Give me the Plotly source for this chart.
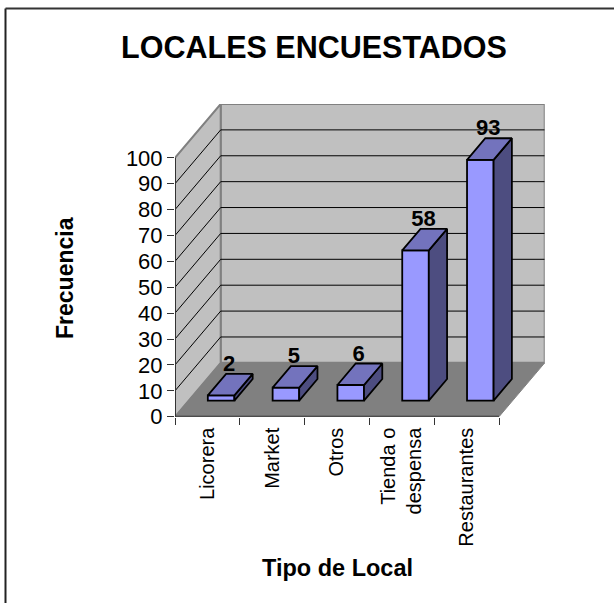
import plotly.graph_objects as go

# datos
categorias = ['Licorera', 'Market', 'Otros', 'Tienda o<br>despensa', 'Restaurantes']
frecuencias = [2, 5, 6, 58, 93]
ticks_y = [0, 10, 20, 30, 40, 50, 60, 70, 80, 90, 100]

ANCHO, ALTO = 614, 603
FUENTE = 'Liberation Sans'

# proyeccion oblicua: una unidad de profundidad desplaza x e y
DX = 0.705
DY = 20.8
Z_FRENTE, Z_FONDO = 0.3, 0.7  # profundidad de la barra dentro del piso
ANCHO_BARRA = 0.41
N = len(categorias)
Y_MAX = ticks_y[-1]


def proy(x, y, z):
    return x + z * DX, y + z * DY


def poligono(puntos):
    xs, ys = zip(*puntos)
    return 'M ' + ' L '.join(f'{a},{b}' for a, b in zip(xs, ys)) + ' Z'


fig = go.Figure()

# paredes y piso
fig.add_shape(type='path', layer='below', line=dict(color='#808080', width=2), fillcolor='#c0c0c0',
              path=poligono([proy(0, 0, 1), proy(N, 0, 1), proy(N, Y_MAX, 1), proy(0, Y_MAX, 1)]))
fig.add_shape(type='path', layer='below', line=dict(color='#808080', width=2), fillcolor='#c0c0c0',
              path=poligono([proy(0, 0, 0), proy(0, 0, 1), proy(0, Y_MAX, 1), proy(0, Y_MAX, 0)]))
fig.add_shape(type='path', layer='below', line=dict(color='#808080', width=1), fillcolor='#808080',
              path=poligono([proy(0, 0, 0), proy(N, 0, 0), proy(N, 0, 1), proy(0, 0, 1)]))

# lineas de la grilla
for t in ticks_y[1:-1]:
    x0, y0 = proy(0, t, 0)
    x1, y1 = proy(0, t, 1)
    x2, y2 = proy(N, t, 1)
    fig.add_shape(type='line', layer='below', x0=x0, y0=y0, x1=x1, y1=y1, line=dict(color='#000000', width=1))
    fig.add_shape(type='line', layer='below', x0=x1, y0=y1, x1=x2, y1=y2, line=dict(color='#000000', width=1))

# cara frontal de las barras
centros = [i + 0.5 for i in range(N)]
xf = [proy(c, 0, Z_FRENTE)[0] for c in centros]
base = proy(0, 0, Z_FRENTE)[1]
fig.add_trace(go.Bar(
    x=xf,
    y=frecuencias,
    base=base,
    width=ANCHO_BARRA,
    marker=dict(color='#9999ff', line=dict(color='#000000', width=1.8)),
    hoverinfo='skip',
    showlegend=False,
))

# caras superior y lateral
for c, v in zip(centros, frecuencias):
    i, d = c - ANCHO_BARRA / 2, c + ANCHO_BARRA / 2
    tapa = [proy(i, v, Z_FRENTE), proy(d, v, Z_FRENTE), proy(d, v, Z_FONDO), proy(i, v, Z_FONDO), proy(i, v, Z_FRENTE)]
    lado = [proy(d, 0, Z_FRENTE), proy(d, 0, Z_FONDO), proy(d, v, Z_FONDO), proy(d, v, Z_FRENTE), proy(d, 0, Z_FRENTE)]
    for puntos, color in ((lado, '#4d4d80'), (tapa, '#7373bd')):
        fig.add_trace(go.Scatter(
            x=[p[0] for p in puntos],
            y=[p[1] for p in puntos],
            mode='lines',
            fill='toself',
            fillcolor=color,
            line=dict(color='#000000', width=1.8),
            hoverinfo='skip',
            showlegend=False,
        ))

# etiquetas de datos
etiquetas = [proy(c, v, Z_FONDO) for c, v in zip(centros, frecuencias)]
fig.add_trace(go.Scatter(
    x=[e[0] - 0.16 for e in etiquetas],
    y=[e[1] - 1.0 for e in etiquetas],
    mode='text',
    text=[str(v) for v in frecuencias],
    textposition='top center',
    textfont=dict(family=FUENTE, size=22, color='#000000', weight='bold'),
    cliponaxis=False,
    hoverinfo='skip',
    showlegend=False,
))

# ejes
EJE = '#333333'
fig.add_shape(type='line', layer='above', x0=0, y0=0, x1=0, y1=Y_MAX, line=dict(color=EJE, width=2))
fig.add_shape(type='line', layer='above', x0=0, y0=0, x1=N, y1=0, line=dict(color=EJE, width=2))

# marco del grafico
fig.add_shape(type='line', xref='paper', yref='paper', x0=5.5 / ANCHO, y0=0, x1=5.5 / ANCHO, y1=1 - 8.5 / ALTO,
              line=dict(color='#222222', width=2))
fig.add_shape(type='line', xref='paper', yref='paper', x0=5.5 / ANCHO, y0=1 - 8.5 / ALTO, x1=1, y1=1 - 8.5 / ALTO,
              line=dict(color='#333333', width=2))

fig.update_layout(
    width=ANCHO,
    height=ALTO,
    margin=dict(l=0, r=0, t=0, b=0),
    paper_bgcolor='#ffffff',
    plot_bgcolor='#ffffff',
    font=dict(family=FUENTE, color='#000000'),
    title=dict(text='<b>LOCALES ENCUESTADOS</b>', font=dict(size=30.5), x=314 / ANCHO, xanchor='center',
               y=1 - 47 / ALTO, yanchor='middle'),
    xaxis=dict(
        domain=[175 / ANCHO, 544.7 / ANCHO],
        range=[0, N + DX],
        tickvals=centros,
        ticktext=categorias,
        tickangle=-90,
        tickfont=dict(size=20),
        ticks='',
        ticklabelstandoff=6,
        showgrid=False,
        zeroline=False,
        automargin=False,
        minor=dict(tickvals=list(range(N + 1)), ticks='outside', ticklen=7, tickcolor=EJE, tickwidth=1, showgrid=False),
    ),
    yaxis=dict(
        domain=[1 - 416.7 / ALTO, 1 - 104 / ALTO],
        range=[0, Y_MAX + DY],
        tickvals=ticks_y,
        tickfont=dict(size=22),
        ticks='outside',
        ticklen=7,
        tickcolor=EJE,
        showgrid=False,
        zeroline=False,
        automargin=False,
    ),
    annotations=[
        dict(text='<b>Frecuencia</b>', xref='paper', yref='paper', x=65 / ANCHO, y=1 - 278 / ALTO,
             xanchor='center', yanchor='middle', textangle=-90, showarrow=False, font=dict(size=23)),
        dict(text='<b>Tipo de Local</b>', xref='paper', yref='paper', x=337 / ANCHO, y=1 - 568 / ALTO,
             xanchor='center', yanchor='middle', showarrow=False, font=dict(size=23.5)),
    ],
)

fig.write_html('out.html', post_script="document.body.style.margin='0';", config=dict(displayModeBar=False))
